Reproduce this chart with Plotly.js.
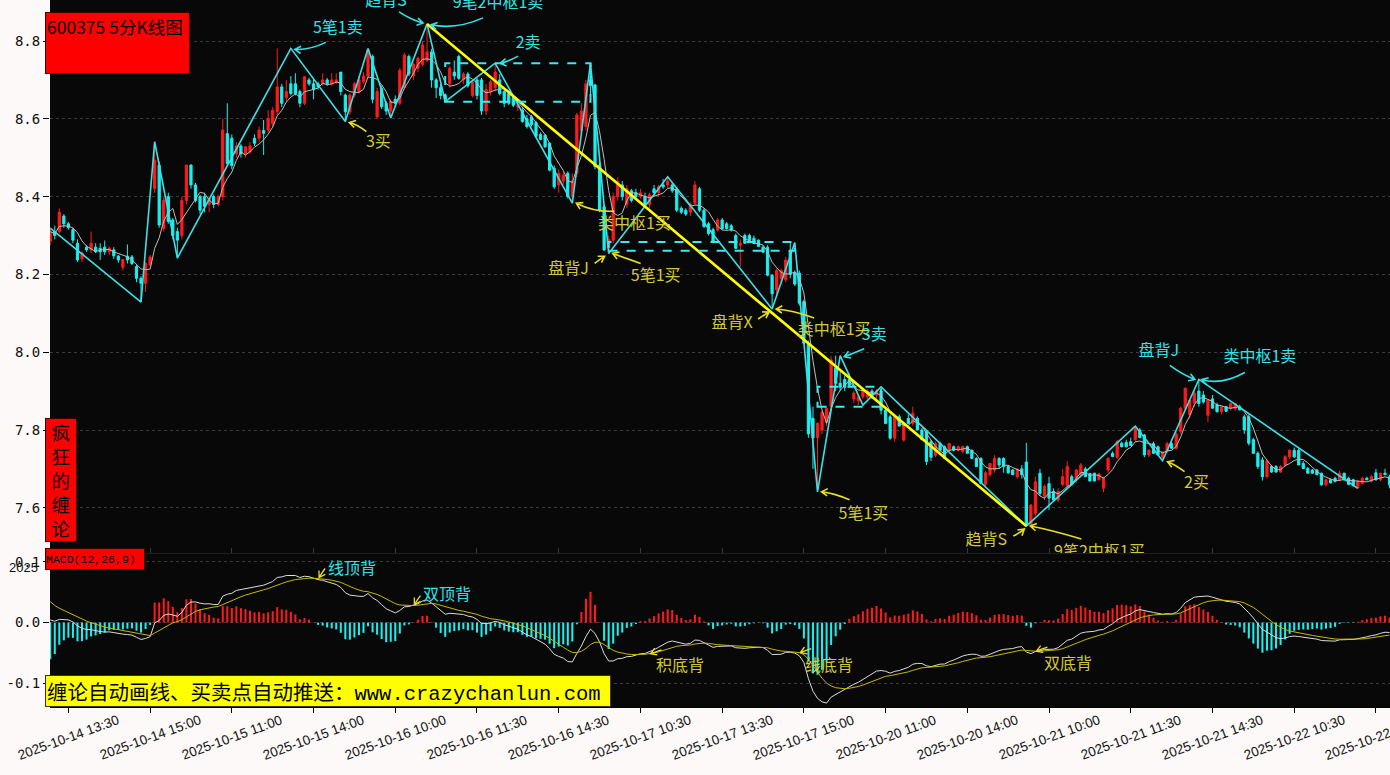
<!DOCTYPE html>
<html><head><meta charset="utf-8">
<script src="https://cdn.plot.ly/plotly-3.0.1.min.js"></script>
<style>html,body{margin:0;padding:0;background:#fcf9f8;}#chart{width:1390px;height:775px;}</style>
</head><body><div id="chart"></div>
<script>
// ---------- OHLC data (5-minute bars, 600375) ----------
const openP = [
8.285,8.31,8.31,8.35,8.33,8.315,8.28,8.24,8.27,8.263,
8.27,8.267,8.27,8.258,8.263,8.247,8.218,8.247,8.245,8.22,
8.19,8.177,8.225,8.421,8.481,8.318,8.40,8.34,8.31,8.30,
8.39,8.481,8.43,8.40,8.40,8.38,8.40,8.38,8.40,8.562,
8.55,8.51,8.53,8.51,8.515,8.55,8.55,8.57,8.571,8.588,
8.618,8.682,8.655,8.69,8.69,8.67,8.64,8.70,8.69,8.69,
8.69,8.70,8.69,8.693,8.72,8.661,8.618,8.661,8.67,8.695,
8.71,8.76,8.605,8.678,8.64,8.62,8.65,8.64,8.68,8.76,
8.71,8.73,8.74,8.75,8.772,8.70,8.68,8.66,8.69,8.72,
8.76,8.70,8.715,8.66,8.70,8.70,8.62,8.67,8.68,8.70,
8.67,8.665,8.655,8.63,8.622,8.60,8.605,8.59,8.56,8.558,
8.537,8.473,8.43,8.44,8.46,8.40,8.46,8.57,8.58,8.70,
8.687,8.481,8.374,8.27,8.288,8.40,8.43,8.38,8.415,8.41,
8.40,8.40,8.38,8.42,8.41,8.43,8.43,8.43,8.42,8.37,
8.365,8.36,8.383,8.42,8.365,8.33,8.315,8.314,8.34,8.33,
8.325,8.30,8.275,8.30,8.30,8.293,8.288,8.27,8.27,8.198,
8.16,8.19,8.186,8.26,8.205,8.203,8.13,8.023,7.83,7.78,
7.80,7.82,7.86,7.96,7.92,7.93,7.93,7.88,7.875,7.885,
7.885,7.90,7.89,7.90,7.851,7.834,7.779,7.834,7.774,7.83,
7.817,7.83,7.80,7.796,7.77,7.735,7.765,7.757,7.748,7.757,
7.748,7.745,7.757,7.748,7.727,7.727,7.66,7.685,7.697,7.727,
7.727,7.706,7.697,7.68,7.70,7.718,7.556,7.586,7.689,7.63,
7.662,7.642,7.62,7.66,7.658,7.68,7.672,7.685,7.70,7.688,
7.689,7.672,7.65,7.697,7.74,7.73,7.766,7.768,7.77,7.775,
7.80,7.787,7.736,7.765,7.757,7.73,7.745,7.765,7.753,7.796,
7.856,7.84,7.87,7.90,7.89,7.838,7.88,7.865,7.847,7.86,
7.855,7.855,7.86,7.834,7.834,7.775,7.74,7.723,7.68,7.706,
7.706,7.692,7.71,7.731,7.748,7.748,7.714,7.701,7.697,7.697,
7.689,7.659,7.672,7.676,7.672,7.689,7.676,7.672,7.651,7.663,
7.676,7.668,7.69,7.672,7.689,7.68];
const highP = [
8.32,8.325,8.37,8.355,8.335,8.32,8.29,8.26,8.275,8.31,
8.28,8.28,8.287,8.272,8.27,8.25,8.24,8.277,8.25,8.225,
8.195,8.232,8.25,8.541,8.49,8.40,8.41,8.345,8.32,8.40,
8.481,8.483,8.435,8.405,8.41,8.40,8.405,8.405,8.60,8.64,
8.56,8.54,8.535,8.53,8.54,8.56,8.58,8.597,8.622,8.63,
8.781,8.69,8.70,8.71,8.717,8.675,8.71,8.705,8.70,8.695,
8.717,8.705,8.717,8.717,8.72,8.665,8.665,8.695,8.71,8.72,
8.781,8.765,8.68,8.685,8.645,8.65,8.66,8.73,8.77,8.765,
8.745,8.76,8.80,8.844,8.78,8.705,8.69,8.665,8.735,8.75,
8.765,8.72,8.72,8.70,8.705,8.705,8.69,8.70,8.743,8.715,
8.675,8.67,8.66,8.64,8.63,8.61,8.61,8.595,8.565,8.56,
8.54,8.48,8.47,8.465,8.465,8.46,8.615,8.64,8.70,8.743,
8.69,8.49,8.38,8.30,8.41,8.45,8.44,8.43,8.42,8.42,
8.42,8.41,8.41,8.43,8.43,8.445,8.451,8.435,8.425,8.375,
8.37,8.385,8.44,8.425,8.37,8.335,8.32,8.345,8.345,8.335,
8.33,8.305,8.29,8.305,8.305,8.30,8.29,8.275,8.275,8.20,
8.215,8.215,8.245,8.282,8.21,8.21,8.135,8.03,7.86,7.82,
7.85,7.86,7.99,7.991,7.95,7.94,7.945,7.90,7.89,7.905,
7.905,7.905,7.905,7.911,7.855,7.84,7.84,7.84,7.82,7.84,
7.86,7.835,7.805,7.80,7.775,7.77,7.77,7.76,7.765,7.76,
7.76,7.76,7.76,7.75,7.73,7.73,7.695,7.715,7.735,7.73,
7.73,7.71,7.70,7.70,7.71,7.767,7.61,7.68,7.70,7.66,
7.68,7.65,7.65,7.70,7.72,7.685,7.70,7.715,7.705,7.69,
7.69,7.69,7.68,7.73,7.745,7.775,7.77,7.775,7.78,7.81,
7.805,7.79,7.75,7.77,7.76,7.745,7.77,7.77,7.795,7.86,
7.91,7.88,7.90,7.93,7.90,7.88,7.89,7.87,7.86,7.862,
7.87,7.87,7.865,7.84,7.84,7.78,7.745,7.73,7.725,7.71,
7.71,7.71,7.735,7.75,7.755,7.752,7.72,7.705,7.70,7.70,
7.69,7.675,7.675,7.68,7.695,7.69,7.68,7.675,7.672,7.68,
7.68,7.685,7.70,7.69,7.70,7.685];
const lowP = [
8.275,8.29,8.305,8.32,8.315,8.28,8.232,8.232,8.258,8.255,
8.255,8.237,8.25,8.25,8.24,8.23,8.21,8.228,8.224,8.18,
8.129,8.155,8.22,8.41,8.32,8.31,8.33,8.29,8.242,8.29,
8.38,8.42,8.385,8.355,8.36,8.36,8.37,8.375,8.39,8.48,
8.47,8.50,8.50,8.50,8.51,8.53,8.54,8.507,8.565,8.58,
8.61,8.63,8.645,8.66,8.66,8.63,8.635,8.685,8.65,8.675,
8.685,8.685,8.685,8.69,8.66,8.593,8.61,8.655,8.665,8.69,
8.705,8.64,8.60,8.625,8.61,8.602,8.63,8.635,8.675,8.71,
8.70,8.72,8.735,8.745,8.68,8.653,8.65,8.644,8.68,8.70,
8.70,8.69,8.68,8.655,8.65,8.61,8.61,8.66,8.67,8.66,
8.63,8.635,8.63,8.62,8.59,8.575,8.58,8.55,8.545,8.525,
8.465,8.42,8.41,8.43,8.395,8.383,8.45,8.56,8.57,8.66,
8.47,8.36,8.26,8.254,8.28,8.39,8.39,8.37,8.385,8.395,
8.395,8.375,8.37,8.40,8.40,8.42,8.42,8.41,8.36,8.355,
8.35,8.35,8.38,8.36,8.32,8.30,8.28,8.31,8.315,8.315,
8.31,8.265,8.22,8.28,8.285,8.28,8.27,8.255,8.195,8.111,
8.14,8.18,8.18,8.19,8.17,8.12,8.02,7.78,7.70,7.641,
7.79,7.81,7.85,7.90,7.90,7.90,7.91,7.87,7.864,7.88,
7.88,7.88,7.88,7.84,7.815,7.775,7.77,7.81,7.77,7.815,
7.81,7.80,7.775,7.71,7.72,7.73,7.745,7.725,7.745,7.745,
7.745,7.74,7.74,7.726,7.705,7.66,7.655,7.68,7.69,7.70,
7.69,7.687,7.685,7.675,7.675,7.553,7.555,7.58,7.63,7.62,
7.595,7.62,7.615,7.655,7.65,7.657,7.665,7.68,7.68,7.668,
7.668,7.67,7.64,7.69,7.73,7.725,7.755,7.755,7.76,7.77,
7.78,7.73,7.73,7.738,7.735,7.721,7.74,7.752,7.75,7.79,
7.85,7.83,7.86,7.86,7.868,7.82,7.855,7.845,7.84,7.847,
7.85,7.85,7.85,7.79,7.76,7.74,7.70,7.67,7.675,7.69,
7.69,7.69,7.705,7.725,7.728,7.71,7.70,7.688,7.687,7.684,
7.657,7.655,7.663,7.665,7.668,7.67,7.659,7.655,7.650,7.66,
7.671,7.665,7.67,7.668,7.684,7.65];
const closeP = [
8.31,8.30,8.36,8.33,8.32,8.288,8.237,8.255,8.263,8.28,
8.258,8.258,8.258,8.267,8.248,8.237,8.238,8.237,8.228,8.19,
8.177,8.228,8.245,8.494,8.327,8.391,8.336,8.30,8.288,8.39,
8.481,8.43,8.39,8.365,8.375,8.395,8.38,8.40,8.571,8.485,
8.48,8.53,8.51,8.528,8.53,8.537,8.571,8.563,8.601,8.622,
8.682,8.64,8.67,8.665,8.665,8.64,8.708,8.69,8.675,8.683,
8.70,8.69,8.70,8.70,8.67,8.618,8.661,8.69,8.70,8.71,
8.777,8.65,8.67,8.631,8.62,8.645,8.64,8.725,8.764,8.715,
8.74,8.755,8.79,8.772,8.70,8.68,8.66,8.65,8.73,8.71,
8.704,8.715,8.685,8.695,8.66,8.62,8.675,8.695,8.72,8.665,
8.64,8.64,8.635,8.635,8.593,8.58,8.585,8.555,8.547,8.528,
8.468,8.425,8.46,8.455,8.40,8.44,8.61,8.62,8.69,8.685,
8.477,8.365,8.263,8.29,8.40,8.438,8.40,8.42,8.39,8.40,
8.41,8.38,8.405,8.41,8.425,8.425,8.44,8.415,8.365,8.36,
8.355,8.38,8.43,8.365,8.323,8.305,8.285,8.34,8.318,8.318,
8.314,8.267,8.28,8.28,8.287,8.28,8.272,8.257,8.198,8.15,
8.21,8.21,8.237,8.20,8.175,8.126,8.023,7.79,7.78,7.817,
7.845,7.855,7.98,7.92,7.91,7.91,7.915,7.895,7.885,7.90,
7.90,7.89,7.90,7.851,7.817,7.779,7.834,7.81,7.817,7.817,
7.843,7.80,7.775,7.719,7.73,7.765,7.748,7.727,7.765,7.748,
7.757,7.757,7.74,7.727,7.706,7.663,7.69,7.714,7.727,7.71,
7.706,7.69,7.685,7.70,7.685,7.556,7.607,7.667,7.637,7.655,
7.625,7.62,7.642,7.68,7.706,7.66,7.697,7.71,7.68,7.669,
7.669,7.687,7.676,7.727,7.732,7.77,7.757,7.757,7.76,7.804,
7.78,7.736,7.748,7.74,7.736,7.744,7.765,7.753,7.79,7.856,
7.907,7.876,7.895,7.868,7.872,7.877,7.856,7.847,7.86,7.848,
7.868,7.868,7.852,7.80,7.766,7.74,7.706,7.68,7.72,7.692,
7.692,7.706,7.731,7.748,7.731,7.71,7.701,7.689,7.689,7.685,
7.659,7.672,7.664,7.668,7.689,7.672,7.66,7.657,7.668,7.676,
7.672,7.68,7.672,7.689,7.685,7.659];

// ---------- Chan theory structure ----------
const biIdx   = [0,20,23,28,53,65,70,75,83,87,98,115,119,123,136,159,164,169,174,179,183,215,239,245,253,288];
const biPrice = [8.319,8.129,8.541,8.242,8.781,8.593,8.781,8.602,8.844,8.644,8.743,8.383,8.743,8.254,8.451,8.111,8.282,7.641,7.991,7.864,7.911,7.553,7.810,7.721,7.930,7.650];
const segIdx   = [83,215];
const segPrice = [8.844,7.553];
const zsStart = [87,123,169];
const zsEnd   = [119,164,183];
const zsHigh  = [8.743,8.283,7.911];
const zsLow   = [8.644,8.261,7.860];

// buy/sell point labels (vertex = index into bi arrays)
const sigVertex = [4,5,8,8,10,11,13,13,15,15,18,17,21,21,23,24,24];
const sigText = ['5笔1卖','3买','趋背S','9笔2中枢1卖','2卖','类中枢1买','盘背J','5笔1买','盘背X','类中枢1买','3卖','5笔1买','趋背S','9笔2中枢1买','2买','盘背J','类中枢1卖'];
const sigSide = ['sell','buy','sell','sell','sell','buy','buy','buy','buy','buy','sell','buy','buy','buy','buy','sell','sell'];

// MACD divergence labels
const mSigIdx  = [59,80,132,165,217];
const mSigText = ['线顶背','双顶背','积底背','线底背','双底背'];
const mSigSide = ['sell','sell','buy','buy','buy'];

// x tick labels
const tickIdx = [4,22,40,58,76,94,112,130,148,166,184,202,220,238,256,274,292];
const tickText = ['2025-10-14 13:30','2025-10-14 15:00','2025-10-15 11:00','2025-10-15 14:00','2025-10-16 10:00','2025-10-16 11:30','2025-10-16 14:30','2025-10-17 10:30','2025-10-17 13:30','2025-10-17 15:00','2025-10-20 11:00','2025-10-20 14:00','2025-10-21 10:00','2025-10-21 11:30','2025-10-21 14:30','2025-10-22 10:30','2025-10-22 13:30'];

// MACD(12,26,9) state carried in from bars before the window
const macdSeed = {ema12: 8.325, ema26: 8.319, dea: 0.042};

// ---------- layout placement (pixels, y up) ----------
const place = [
 {L:[47,19],  S:[35,6],   C:[18,-2], E:[4,-1]},
 {L:[33,-21], S:[21,-10], C:[12,-3], E:[4,-1]},
 {L:[-41,22], S:[-28,12], C:[-14,3], E:[-4,1]},
 {L:[71,20],  S:[56,6],   C:[29,-6], E:[4,-1]},
 {L:[33,19],  S:[23,7],   C:[12,1],  E:[5,0]},
 {L:[62,-22], S:[42,-8],  C:[22,-9], E:[4,0]},
 {L:[-40,-17],S:[-14,-10],C:[-9,-6], E:[-4,-3]},
 {L:[47,-24], S:[32,-10], C:[15,-4], E:[4,0]},
 {L:[-40,-15],S:[-14,-10],C:[-8,-6], E:[-3,-3]},
 {L:[62,-22], S:[42,-9],  C:[20,-1], E:[4,0]},
 {L:[34,20],  S:[24,7],   C:[12,2],  E:[4,-1]},
 {L:[46,-23], S:[32,-8],  C:[16,-1], E:[4,0]},
 {L:[-40,-15],S:[-13,-10],C:[-7,-7], E:[-2,-3]},
 {L:[73,-27], S:[55,-13], C:[25,-4], E:[4,0]},
 {L:[34,-23], S:[22,-11], C:[13,-4], E:[5,-1]},
 {L:[-40,27], S:[-29,14], C:[-17,5], E:[-4,0]},
 {L:[61,21],  S:[46,7],   C:[22,-6], E:[3,0]}
];
const mPlace = [
 {L:[34,12], S:[7,10], C:[4,6], E:[1,1]},
 {L:[34,13], S:[7,10], C:[4,6], E:[1,1]},
 {L:[30,-10],S:[12,4], C:[6,2], E:[1,0]},
 {L:[30,-11],S:[12,4], C:[6,2], E:[1,0]},
 {L:[33,-11],S:[12,4], C:[6,2], E:[1,0]}
];

const BUY = '#d4c83a', SELL = '#2fe4e8';
const XR = [-0.05, 295.1];
const YR = [7.4838, 8.9054];
const Y2R = [-0.1384, 0.1141];
const PLOT_W = 1340, PRICE_H = 553, FIG_PLOT_H = 707;
const d0 = 1 - PRICE_H / FIG_PLOT_H;

// ---------- derived series ----------
const idx = closeP.map((_, i) => i);
const ma5 = closeP.map((_, i) => {
  const s = closeP.slice(Math.max(0, i - 4), i + 1);
  return s.reduce((a, b) => a + b, 0) / s.length;
});
let e12 = macdSeed.ema12, e26 = macdSeed.ema26, dea = macdSeed.dea;
const difS = [], deaS = [], histS = [];
closeP.forEach(c => {
  e12 += (2 / 13) * (c - e12);
  e26 += (2 / 27) * (c - e26);
  const d = e12 - e26;
  dea += 0.2 * (d - dea);
  difS.push(d); deaS.push(dea); histS.push(2 * (d - dea));
});

// curved arrow (quadratic) with an open arrowhead, in pixel offsets from the anchor
function arrowPath(p) {
  const [sx, sy] = p.S, [cx, cy] = p.C, [ex, ey] = p.E;
  let dx = ex - cx, dy = ey - cy;
  const n = Math.hypot(dx, dy) || 1; dx /= n; dy /= n;
  const L = 7, a = 0.55;
  const bx = -dx, by = -dy;
  const r1 = [bx * Math.cos(a) - by * Math.sin(a), bx * Math.sin(a) + by * Math.cos(a)];
  const r2 = [bx * Math.cos(-a) - by * Math.sin(-a), bx * Math.sin(-a) + by * Math.cos(-a)];
  const f = v => v.toFixed(1);
  return `M${f(sx)},${f(sy)} Q${f(cx)},${f(cy)} ${f(ex)},${f(ey)} M${f(ex + L * r1[0])},${f(ey + L * r1[1])} L${f(ex)},${f(ey)} L${f(ex + L * r2[0])},${f(ey + L * r2[1])}`;
}

const pxX = PLOT_W / (XR[1] - XR[0]);
const pxY = PRICE_H / (YR[1] - YR[0]);

// ---------- traces ----------
const traces = [];
traces.push({
  type: 'candlestick', x: idx, open: openP, high: highP, low: lowP, close: closeP,
  xaxis: 'x', yaxis: 'y', whiskerwidth: 0, hoverinfo: 'skip',
  increasing: {line: {color: '#ff1a1a', width: 1}, fillcolor: '#ff1a1a'},
  decreasing: {line: {color: '#19f0f0', width: 1}, fillcolor: '#19f0f0'}
});
traces.push({type: 'scatter', mode: 'lines', x: idx, y: ma5, xaxis: 'x', yaxis: 'y',
  line: {color: '#bdbdbd', width: 1}, hoverinfo: 'skip'});
traces.push({type: 'scatter', mode: 'lines', x: biIdx, y: biPrice, xaxis: 'x', yaxis: 'y',
  line: {color: '#3ee0e6', width: 1.6}, hoverinfo: 'skip'});
traces.push({type: 'scatter', mode: 'lines', x: segIdx, y: segPrice, xaxis: 'x', yaxis: 'y',
  line: {color: '#ffff00', width: 2.6}, hoverinfo: 'skip'});
traces.push({type: 'scatter', mode: 'text', xaxis: 'x', yaxis: 'y', cliponaxis: true,
  x: sigVertex.map((v, k) => biIdx[v] + place[k].L[0] / pxX),
  y: sigVertex.map((v, k) => biPrice[v] + place[k].L[1] / pxY),
  text: sigText, textposition: 'middle center',
  textfont: {family: 'Noto Sans CJK SC', size: 16, color: sigSide.map(s => s === 'buy' ? BUY : SELL)},
  hoverinfo: 'skip'});
traces.push({type: 'bar', x: idx, y: histS, xaxis: 'x2', yaxis: 'y2', width: 0.45,
  marker: {color: histS.map(v => v >= 0 ? '#ff1a1a' : '#19f0f0'), line: {width: 0}}, hoverinfo: 'skip'});
traces.push({type: 'scatter', mode: 'lines', x: idx, y: difS, xaxis: 'x2', yaxis: 'y2',
  line: {color: '#dcdcdc', width: 1}, hoverinfo: 'skip'});
traces.push({type: 'scatter', mode: 'lines', x: idx, y: deaS, xaxis: 'x2', yaxis: 'y2',
  line: {color: '#c9b800', width: 1}, hoverinfo: 'skip'});

// ---------- shapes ----------
const shapes = [];
zsStart.forEach((s, k) => shapes.push({
  type: 'rect', xref: 'x', yref: 'y', x0: s, x1: zsEnd[k], y0: zsLow[k], y1: zsHigh[k],
  line: {color: '#3ee8f0', width: 2, dash: 'dash'}, fillcolor: 'rgba(0,0,0,0)', layer: 'above'
}));
sigVertex.forEach((v, k) => shapes.push({
  type: 'path', xref: 'x', yref: 'y', xsizemode: 'pixel', ysizemode: 'pixel',
  xanchor: biIdx[v], yanchor: biPrice[v], path: arrowPath(place[k]),
  line: {color: sigSide[k] === 'buy' ? '#e8e020' : SELL, width: 1.6}, layer: 'above'
}));
mSigIdx.forEach((i, k) => shapes.push({
  type: 'path', xref: 'x2', yref: 'y2', xsizemode: 'pixel', ysizemode: 'pixel',
  xanchor: i, yanchor: deaS[i], path: arrowPath(mPlace[k]),
  line: {color: '#e8e020', width: 1.3}, layer: 'above'
}));

// ---------- annotations ----------
const ann = [];
tickIdx.forEach((t, k) => ann.push({
  xref: 'x2', yref: 'paper', x: t, y: 0, yshift: -30, xanchor: 'center', yanchor: 'middle',
  text: tickText[k], textangle: -20, showarrow: false,
  font: {family: 'Liberation Sans', size: 13.5, color: '#111'}
}));
mSigIdx.forEach((i, k) => ann.push({
  xref: 'x2', yref: 'y2', x: i, y: deaS[i], xshift: mPlace[k].L[0], yshift: mPlace[k].L[1],
  text: mSigText[k], showarrow: false,
  font: {family: 'Noto Sans CJK SC', size: 16, color: mSigSide[k] === 'buy' ? BUY : SELL}
}));
const px2x = px => (px - 50) / PLOT_W;
const py2y = py => 1 - py / FIG_PLOT_H;
ann.push({xref: 'paper', yref: 'paper', x: px2x(45), y: py2y(12), xanchor: 'left', yanchor: 'top',
  text: '600375 5分K线图', showarrow: false, align: 'left', valign: 'top', width: 141, height: 58,
  bgcolor: '#ff0000', bordercolor: '#3a0000', borderwidth: 1, borderpad: 1,
  font: {family: 'Noto Sans CJK SC', size: 17.5, color: '#000'}});
ann.push({xref: 'paper', yref: 'paper', x: px2x(45), y: py2y(418), xanchor: 'left', yanchor: 'top',
  text: '疯<br>狂<br>的<br>缠<br>论', showarrow: false, align: 'center', width: 28, height: 120,
  bgcolor: '#ff0000', bordercolor: '#3a0000', borderwidth: 1, borderpad: 1,
  font: {family: 'Noto Sans CJK SC', size: 18.5, color: '#000'}});
ann.push({xref: 'paper', yref: 'paper', x: px2x(45), y: py2y(548), xanchor: 'left', yanchor: 'top',
  text: 'MACD(12,26,9)', showarrow: false, align: 'left', width: 98, height: 20,
  bgcolor: '#ff0000', bordercolor: '#3a0000', borderwidth: 1, borderpad: 0,
  font: {family: 'Liberation Mono', size: 11.5, color: '#000'}});
ann.push({xref: 'paper', yref: 'paper', x: px2x(45), y: py2y(675), xanchor: 'left', yanchor: 'top',
  text: '缠论自动画线、买卖点自动推送：<span style="font-family:Liberation Mono">www.crazychanlun.com</span>',
  showarrow: false, align: 'left', width: 562, height: 28,
  bgcolor: '#ffff00', bordercolor: '#333', borderwidth: 1, borderpad: 1,
  font: {family: 'Noto Sans CJK SC', size: 20.5, color: '#000'}});
ann.push({xref: 'paper', yref: 'paper', x: px2x(40), y: py2y(567), xanchor: 'right', yanchor: 'middle',
  text: '2025', showarrow: false, font: {family: 'Liberation Sans', size: 13, color: '#111'}});

const layout = {
  width: 1390, height: 775,
  margin: {l: 50, r: 0, t: 0, b: 68, pad: 0},
  paper_bgcolor: '#fcf9f8', plot_bgcolor: '#080808',
  showlegend: false, bargap: 0.5, hovermode: false,
  xaxis: {domain: [0, 1], range: XR, anchor: 'y', rangeslider: {visible: false},
    tickvals: tickIdx, showticklabels: false, ticks: 'inside', ticklen: 5, tickcolor: '#3a3a3a',
    showline: true, linecolor: '#1e1e1e', linewidth: 1, showgrid: false, zeroline: false, fixedrange: true},
  yaxis: {domain: [d0, 1], range: YR, anchor: 'x',
    tickvals: [7.6, 7.8, 8.0, 8.2, 8.4, 8.6, 8.8], ticktext: ['7.6', '7.8', '8.0', '8.2', '8.4', '8.6', '8.8'],
    ticks: 'outside', ticklen: 6, tickcolor: '#000', showline: false, zeroline: false,
    gridcolor: '#3c3c3c', griddash: 'dot', gridwidth: 1,
    tickfont: {family: 'DejaVu Sans Mono', size: 14, color: '#111'}, fixedrange: true},
  xaxis2: {domain: [0, 1], range: XR, anchor: 'y2', matches: 'x',
    tickvals: tickIdx, showticklabels: false, ticks: 'outside', ticklen: 5, tickcolor: '#000',
    showline: true, linecolor: '#000', linewidth: 1, showgrid: false, zeroline: false, fixedrange: true},
  yaxis2: {domain: [0, d0], range: Y2R, anchor: 'x2',
    tickvals: [-0.1, 0, 0.1], ticktext: ['-0.1', '0.0', '0.1'],
    ticks: 'outside', ticklen: 6, tickcolor: '#000', showline: false, zeroline: false,
    gridcolor: '#3c3c3c', griddash: 'dot', gridwidth: 1,
    tickfont: {family: 'DejaVu Sans Mono', size: 14, color: '#111'}, fixedrange: true},
  shapes: shapes,
  annotations: ann
};

Plotly.newPlot('chart', traces, layout, {displayModeBar: false, staticPlot: true});
</script>
</body></html>
